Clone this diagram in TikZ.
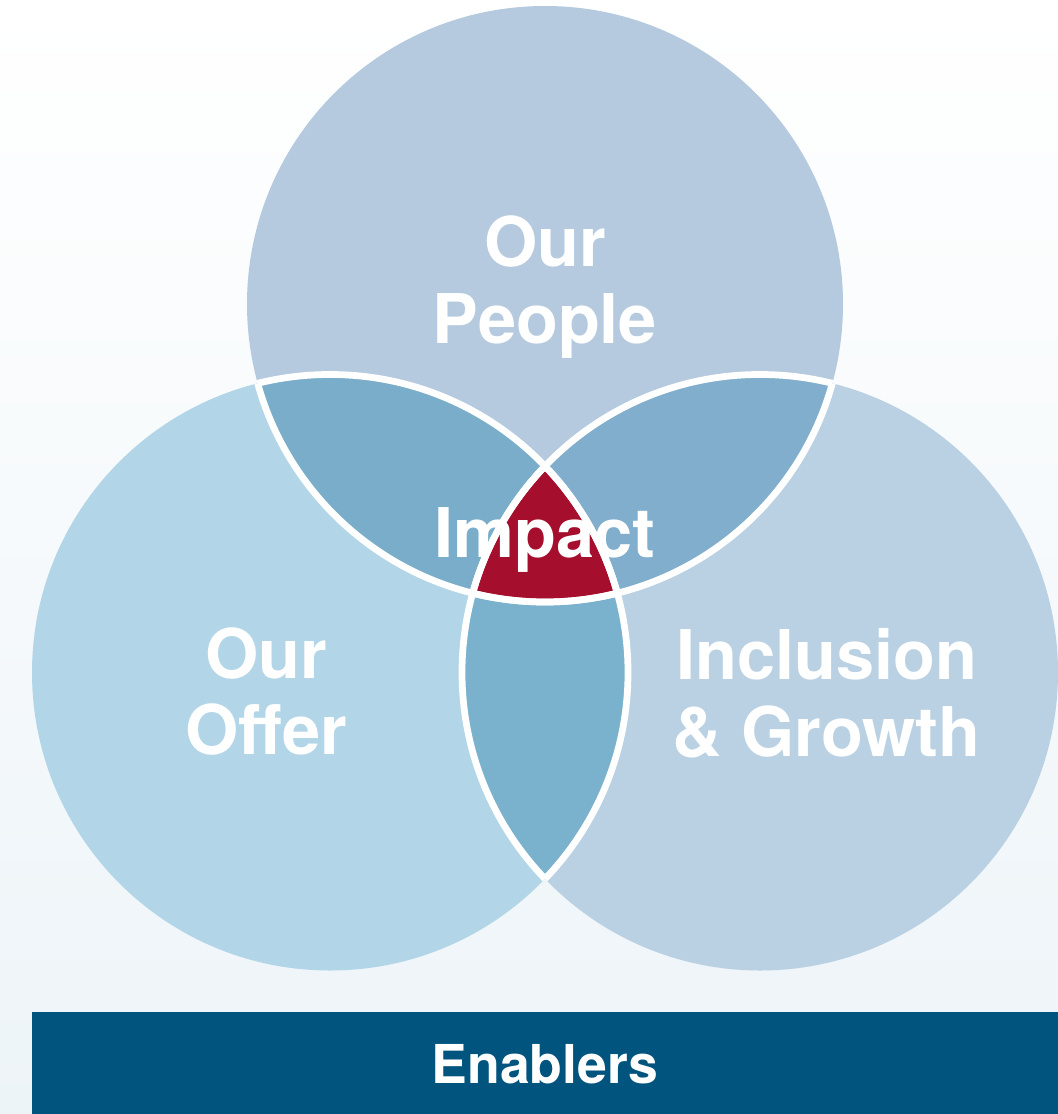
\documentclass[tikz,border=0pt]{standalone}
\usepackage{fontspec}
\setmainfont{TeX Gyre Heros}
\definecolor{bgc}{HTML}{EDF4F8}
\definecolor{topc}{HTML}{B5CADE}
\definecolor{leftc}{HTML}{B2D6E8}
\definecolor{rightc}{HTML}{BAD1E3}
\definecolor{lenstl}{HTML}{7AADCA}
\definecolor{lenstr}{HTML}{80AECC}
\definecolor{lensb}{HTML}{7AB2CD}
\definecolor{core}{HTML}{A50E2D}
\definecolor{barc}{HTML}{00547E}
\tikzset{vt/.append style={text=white, align=center, inner sep=0pt, font=\bfseries\fontsize{39}{43.8}\selectfont}}
\tikzset{rim/.append style={draw=white, line width=0.135cm}}

\begin{document}
\begin{tikzpicture}
                % background
                \useasboundingbox (0,0) rectangle (21.16,-22.28);
                \shade[top color=white, middle color=bgc!35, bottom color=bgc] (0,0) rectangle (21.16,-22.28);
                \def\rr{5.96}
                \coordinate (T) at (10.90,-6.08);
                \coordinate (L) at (6.60,-13.45);
                \coordinate (R) at (15.20,-13.45);
                % circles
                \fill[topc] (T) circle (\rr);
                \fill[leftc] (L) circle (\rr);
                \fill[rightc] (R) circle (\rr);
                % lenses
                \begin{scope} \clip (T) circle (\rr); \fill[lenstl] (L) circle (\rr); \end{scope}
                \begin{scope} \clip (T) circle (\rr); \fill[lenstr] (R) circle (\rr); \end{scope}
                \begin{scope} \clip (L) circle (\rr); \fill[lensb] (R) circle (\rr); \end{scope}
                \begin{scope} \clip (T) circle (\rr); \clip (L) circle (\rr); \fill[core] (R) circle (\rr); \end{scope}
                % white rims inside the other circles
                \foreach \a/\b in {T/L,T/R,L/T,L/R,R/T,R/L}
                    {\begin{scope} \clip (\b) circle (\rr); \draw[rim] (\a) circle (\rr); \end{scope}}
                % labels
                \node[vt] (people) at (10.90,-5.75) {Our\\People};
                \node[vt] (offer) at (5.32,-13.83) {Our\\Offer};
                \node[vt] (growth) at (16.53,-13.86) {Inclusion\\\& Growth};
                \node[vt, anchor=base] (impact) at (10.90,-11.14) {Impact};
                % enablers bar
                \fill[barc] (0.64,-20.24) rectangle (21.16,-22.28);
                \node[vt, anchor=base, font=\bfseries\fontsize{30.5}{34}\selectfont] (enablers) at (10.90,-21.66) {Enablers};
            \end{tikzpicture}
\end{document}
